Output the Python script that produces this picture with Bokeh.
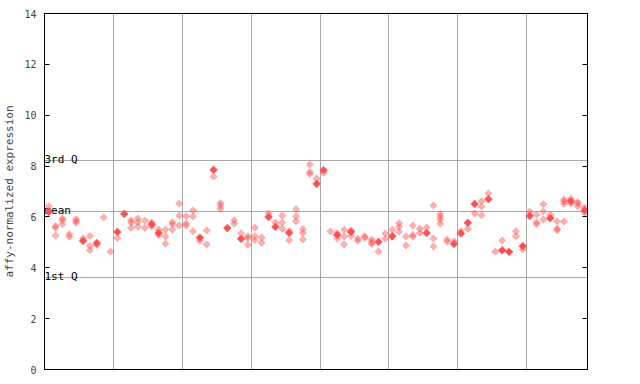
import numpy as np
from bokeh.plotting import figure
from bokeh.models import ColumnDataSource, LinearAxis, FixedTicker, Range1d
from bokeh.core.properties import value
from bokeh.embed import file_html
from bokeh.resources import INLINE

# ---- data -------------------------------------------------------------
group_sizes = [10, 10, 10, 10, 10, 10, 10, 9]

stat_labels = ["3rd Q", "mean", "1st Q"]
stat_values = [8.22, 6.22, 3.62]

y_ticks = [0, 2, 4, 6, 8, 10, 12, 14]

# filled (highlighted) points: sample index, expression
solid_idx = [0, 5, 7, 10, 11, 15, 16, 22, 24, 26, 28, 32, 33, 35, 39, 40, 42,
             44, 48, 50, 55, 59, 60, 61, 62, 64, 66, 67, 69, 70, 73, 76, 78]
solid_val = [6.20, 5.06, 4.97, 5.41, 6.12, 5.71, 5.37, 5.18, 7.85, 5.56, 5.14,
             6.00, 5.61, 5.37, 7.30, 7.84, 5.29, 5.41, 5.02, 5.24, 5.37, 4.94,
             5.35, 5.77, 6.51, 6.70, 4.69, 4.63, 4.85, 6.04, 5.95, 6.62, 6.26]

# open (checkered) points: sample index, expression
open_idx = [0, 1, 1, 1, 2, 2, 2, 3, 3, 4, 4, 4, 5, 6, 6, 6, 7, 8, 9,
            10, 12, 12, 12, 13, 13, 13, 14, 14, 15, 15, 16, 16, 17, 17, 17,
            18, 18, 18, 19, 19, 19, 20, 20, 20, 21, 21, 21, 22, 23, 23, 24,
            25, 25, 25, 27, 27, 28, 29, 29, 29, 30, 30, 30, 31, 31, 32, 33,
            34, 34, 34, 35, 35, 36, 36, 36, 37, 37, 37, 38, 38, 38, 39, 40,
            41, 42, 42, 43, 43, 43, 44, 44, 45, 45, 46, 46, 47, 47, 47, 48,
            49, 49, 50, 51, 51, 51, 52, 52, 53, 53, 53, 54, 54, 55, 56, 56,
            56, 57, 57, 57, 57, 58, 58, 59, 60, 61, 62, 63, 63, 63, 64, 65,
            66, 68, 68, 69, 70, 71, 71, 71, 72, 72, 72, 73, 74, 74, 74, 75,
            75, 75, 75, 76, 76, 77, 77, 77, 78, 78]
open_val = [6.42, 5.64, 5.57, 5.27, 5.94, 5.87, 5.71, 5.32, 5.22, 5.91, 5.84,
            5.77, 5.16, 5.25, 4.86, 4.69, 4.90, 5.98, 4.64,
            5.17, 5.87, 5.78, 5.57, 5.94, 5.80, 5.62, 5.86, 5.57, 5.78, 5.62,
            5.50, 5.29, 5.50, 5.23, 4.95,
            5.79, 5.71, 5.50, 6.53, 6.05, 5.66, 6.03, 5.74, 5.66, 6.25, 6.02,
            5.44, 5.06, 5.47, 4.92, 7.59,
            6.55, 6.45, 6.32, 5.87, 5.74, 5.35, 5.24, 5.16, 4.90, 5.58, 5.24,
            5.08, 5.19, 4.98, 6.13, 5.78,
            6.05, 5.78, 5.54, 5.45, 5.08, 6.30, 6.02, 5.83, 5.52, 5.37, 5.11,
            8.06, 7.77, 7.69, 7.51, 7.73,
            5.43, 5.36, 5.15, 5.50, 5.23, 4.92, 5.47, 5.25, 5.14, 5.06, 5.24,
            5.18, 5.11, 5.02, 4.94, 4.64,
            5.35, 5.14, 5.50, 5.75, 5.61, 5.43, 5.23, 4.88, 5.66, 5.29, 5.22,
            5.54, 5.37, 5.58, 6.45, 5.15,
            4.84, 6.11, 6.00, 5.90, 5.74, 5.11, 5.03, 5.04, 5.45, 5.53, 6.14,
            6.62, 6.41, 6.06, 6.92, 4.64,
            5.07, 5.44, 5.24, 4.72, 6.21, 6.09, 5.79, 5.71, 6.50, 6.21, 5.90,
            6.09, 5.82, 5.54, 5.48, 6.68,
            6.61, 6.51, 5.82, 6.72, 6.53, 6.59, 6.53, 6.42, 6.37, 6.16]

# ---- figure ------------------------------------------------------------
n_samples = sum(group_sizes)
x_start, x_end = -0.61, n_samples - 0.58
boundaries = list(np.cumsum(group_sizes)[:-1] - 0.5)

RED = "#ff5050"
GRID = "#a8a8a8"
FONT = "DejaVu Sans Mono"

p = figure(width=631, height=376, output_backend="svg", toolbar_location=None,
           x_range=Range1d(x_start, x_end), y_range=Range1d(0, 14),
           min_border_left=44, min_border_right=44, min_border_top=13,
           min_border_bottom=7)
p.background_fill_color = "white"
p.border_fill_color = "white"
p.outline_line_color = "black"
p.outline_line_width = 1
p.xaxis.visible = False
p.xgrid.visible = False
p.ygrid.visible = False

yax = p.yaxis[0]
yax.ticker = FixedTicker(ticks=y_ticks)
yax.axis_label = "affy-normalized expression"
yax.axis_label_text_font = FONT
yax.axis_label_text_font_size = "11px"
yax.axis_label_text_font_style = "normal"
yax.axis_label_standoff = 5
yax.major_label_text_font = FONT
yax.major_label_text_font_size = "10px"
yax.major_label_standoff = 8
yax.major_tick_in = 5
yax.major_tick_out = 0
yax.minor_tick_line_color = None
yax.axis_line_color = "black"
yax.major_tick_line_color = "black"

rax = LinearAxis(ticker=FixedTicker(ticks=y_ticks),
                 major_label_overrides={t: "" for t in y_ticks},
                 major_label_standoff=0, major_tick_in=5, major_tick_out=0,
                 minor_tick_line_color=None, axis_line_color="black",
                 major_tick_line_color="black")
p.add_layout(rax, "right")

# group boundaries and summary lines
p.vspan(x=boundaries, line_color=GRID, line_width=1)
p.hspan(y=stat_values, line_color=GRID, line_width=1)

p.text(x=[x_start] * len(stat_values), y=stat_values, text=stat_labels,
       text_font=value(FONT), text_font_size="11px", text_color="black",
       text_align="left", text_baseline="alphabetic", y_offset=-1)

open_src = ColumnDataSource(dict(x=open_idx, y=open_val))
solid_src = ColumnDataSource(dict(x=solid_idx, y=solid_val))

p.scatter("x", "y", source=open_src, marker="square", size=5, angle=np.pi / 4,
          fill_color=RED, fill_alpha=0.45, line_color=RED, line_alpha=0.55,
          line_width=0.6)
p.scatter("x", "y", source=solid_src, marker="square", size=5.5, angle=np.pi / 4,
          fill_color=RED, line_color=RED, line_width=0.6)

open("out.html", "w").write(file_html(p, INLINE))
